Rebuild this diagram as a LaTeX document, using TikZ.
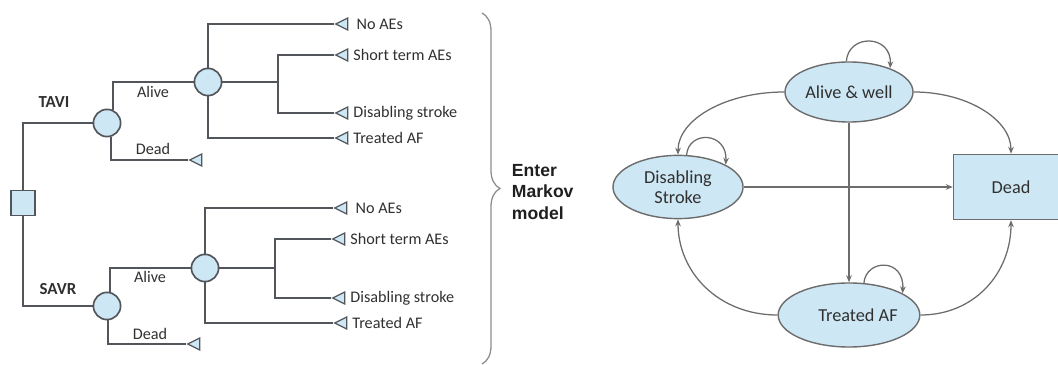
\documentclass[tikz,border=0pt]{standalone}
\usepackage{fontspec}
\setmainfont{Carlito}
\newfontfamily\enterfont{Liberation Sans}
\usetikzlibrary{arrows.meta,positioning,shapes.geometric,decorations.pathreplacing}
\definecolor{StateFill}{RGB}{206,231,244}
\definecolor{TreeLine}{RGB}{82,86,90}
\definecolor{MarkovLine}{RGB}{108,108,108}
\definecolor{LabelText}{RGB}{48,48,48}

\begin{document}
\begin{tikzpicture}[x=0.025cm,y=-0.025cm,>={Stealth[length=5pt,width=4pt]}]
  \tikzset{chance/.style={circle,draw=TreeLine,line width=1.2pt,fill=StateFill,minimum size=0.68cm,inner sep=0},
    endnode/.style={isosceles triangle,shape border rotate=180,isosceles triangle stretches,draw=TreeLine,line width=0.9pt,fill=StateFill,minimum width=0.3cm,minimum height=0.3cm,inner sep=0},
    branch/.style={draw=TreeLine,line width=1.3pt},
    outcome/.style={font=\fontsize{11.5}{13}\selectfont,text=LabelText,inner sep=0},
    arm/.style={font=\bfseries\fontsize{12}{14}\selectfont,text=LabelText,inner sep=0},
    state/.style={ellipse,draw=MarkovLine,line width=1pt,fill=StateFill,minimum width=3.2cm,minimum height=1.5cm,font=\fontsize{13}{14.5}\selectfont,text=LabelText,align=center,inner sep=1pt},
    move/.style={->,draw=MarkovLine,line width=0.9pt}}
  \useasboundingbox (0,0) rectangle (1058,365);
  \clip (0,0) rectangle (1058,365);
  % decision tree
  \node[draw=TreeLine,line width=1.2pt,fill=StateFill,minimum width=0.6cm,minimum height=0.62cm] (root) at (23,203) {};
  \node[chance] (tavi) at (107,123) {};
  \node[chance] (savr) at (107,306) {};
  \node[chance] (alive1) at (208,82) {};
  \node[chance] (alive2) at (205,268) {};
  \node[arm] (tavilbl) at (54,102) {TAVI};
  \node[arm] (savrlbl) at (58,289) {SAVR};
  \node[outcome] (alivelbl1) at (153,92) {Alive};
  \node[outcome] (deadlbl1) at (153,149) {Dead};
  \node[outcome] (alivelbl2) at (150,277) {Alive};
  \node[outcome] (deadlbl2) at (150,334) {Dead};
  \node[endnode] (noae1) at (344,24) {};
  \node[endnode] (short1) at (344,55) {};
  \node[endnode] (stroke1) at (344,113) {};
  \node[endnode] (af1) at (344,138) {};
  \node[endnode] (dead1) at (198,160) {};
  \node[endnode] (noae2) at (343,208) {};
  \node[endnode] (short2) at (341,239) {};
  \node[endnode] (stroke2) at (341,298) {};
  \node[endnode] (af2) at (343,323) {};
  \node[endnode] (dead2) at (196,344) {};
  \node[outcome,right=0.2cm of noae1] (noaetxt1) {No AEs};
  \node[outcome,right=0.12cm of short1] (shorttxt1) {Short term AEs};
  \node[outcome,right=0.12cm of stroke1] (stroketxt1) {Disabling stroke};
  \node[outcome,right=0.12cm of af1] (aftxt1) {Treated AF};
  \node[outcome,right=0.2cm of noae2] (noaetxt2) {No AEs};
  \node[outcome,right=0.12cm of short2] (shorttxt2) {Short term AEs};
  \node[outcome,right=0.12cm of stroke2] (stroketxt2) {Disabling stroke};
  \node[outcome,right=0.12cm of af2] (aftxt2) {Treated AF};
  \coordinate (fork1) at (278,82);
  \coordinate (fork2) at (275,268);
  \draw[branch] (root.north) |- (tavi.west);
  \draw[branch] (root.south) |- (savr.west);
  \draw[branch] (tavi.65) |- (alive1.west);
  \draw[branch] (tavi.-73) |- (dead1.west);
  \draw[branch] (savr.77) |- (alive2.west);
  \draw[branch] (savr.-86) |- (dead2.west);
  \draw[branch] (alive1.north) |- (noae1.west);
  \draw[branch] (alive1.south) |- (af1.west);
  \draw[branch] (alive1.east) -- (fork1);
  \draw[branch] (short1.west) -| (fork1) |- (stroke1.west);
  \draw[branch] (alive2.north) |- (noae2.west);
  \draw[branch] (alive2.south) |- (af2.west);
  \draw[branch] (alive2.east) -- (fork2);
  \draw[branch] (short2.west) -| (fork2) |- (stroke2.west);
  % brace to the Markov model
  \draw[draw=black!45,line width=0.9pt,decorate,decoration={brace,amplitude=0.45cm}] (482,13) -- (482,364);
  \node[font=\enterfont\bfseries\fontsize{12.5}{15}\selectfont,text=black!88,align=left,anchor=west] (enter) at (507,192) {Enter\\Markov\\model};
  % Markov model
  \node[state] (alive) at (849,92) {Alive \& well};
  \node[state,minimum width=3.25cm,minimum height=1.58cm] (stroke) at (678,187) {Disabling\\Stroke};
  \node[state,minimum height=1.6cm] (treated) at (849,315) {\hspace*{0.45cm}Treated AF};
  \node[draw=MarkovLine,line width=1pt,fill=StateFill,minimum width=2.875cm,minimum height=1.625cm,font=\fontsize{13}{14.5}\selectfont,text=LabelText] (dead) at (1011,187) {Dead};
  \draw[move] (alive.west) .. controls +(-59,0) and +(0,-35) .. (stroke.north);
  \draw[move] (alive.east) .. controls +(54,0) and +(0,-34) .. (dead.north);
  \draw[move] (alive.south) -- (treated.north);
  \draw[move] (stroke.east) -- (dead.west);
  \draw[move] (treated.west) .. controls +(-59,0) and +(0,53) .. (stroke.south);
  \draw[move] (treated.east) .. controls +(54,0) and +(0,53) .. (dead.south);
  \draw[move] (alive.95) .. controls +(2,-28) and +(2,-34) .. (alive.30);
  \draw[move] (stroke.75) .. controls +(2,-25) and +(2,-33) .. (stroke.25);
  \draw[move] (treated.65) .. controls +(2,-24) and +(2,-36) .. (treated.22);
\end{tikzpicture}
\end{document}
